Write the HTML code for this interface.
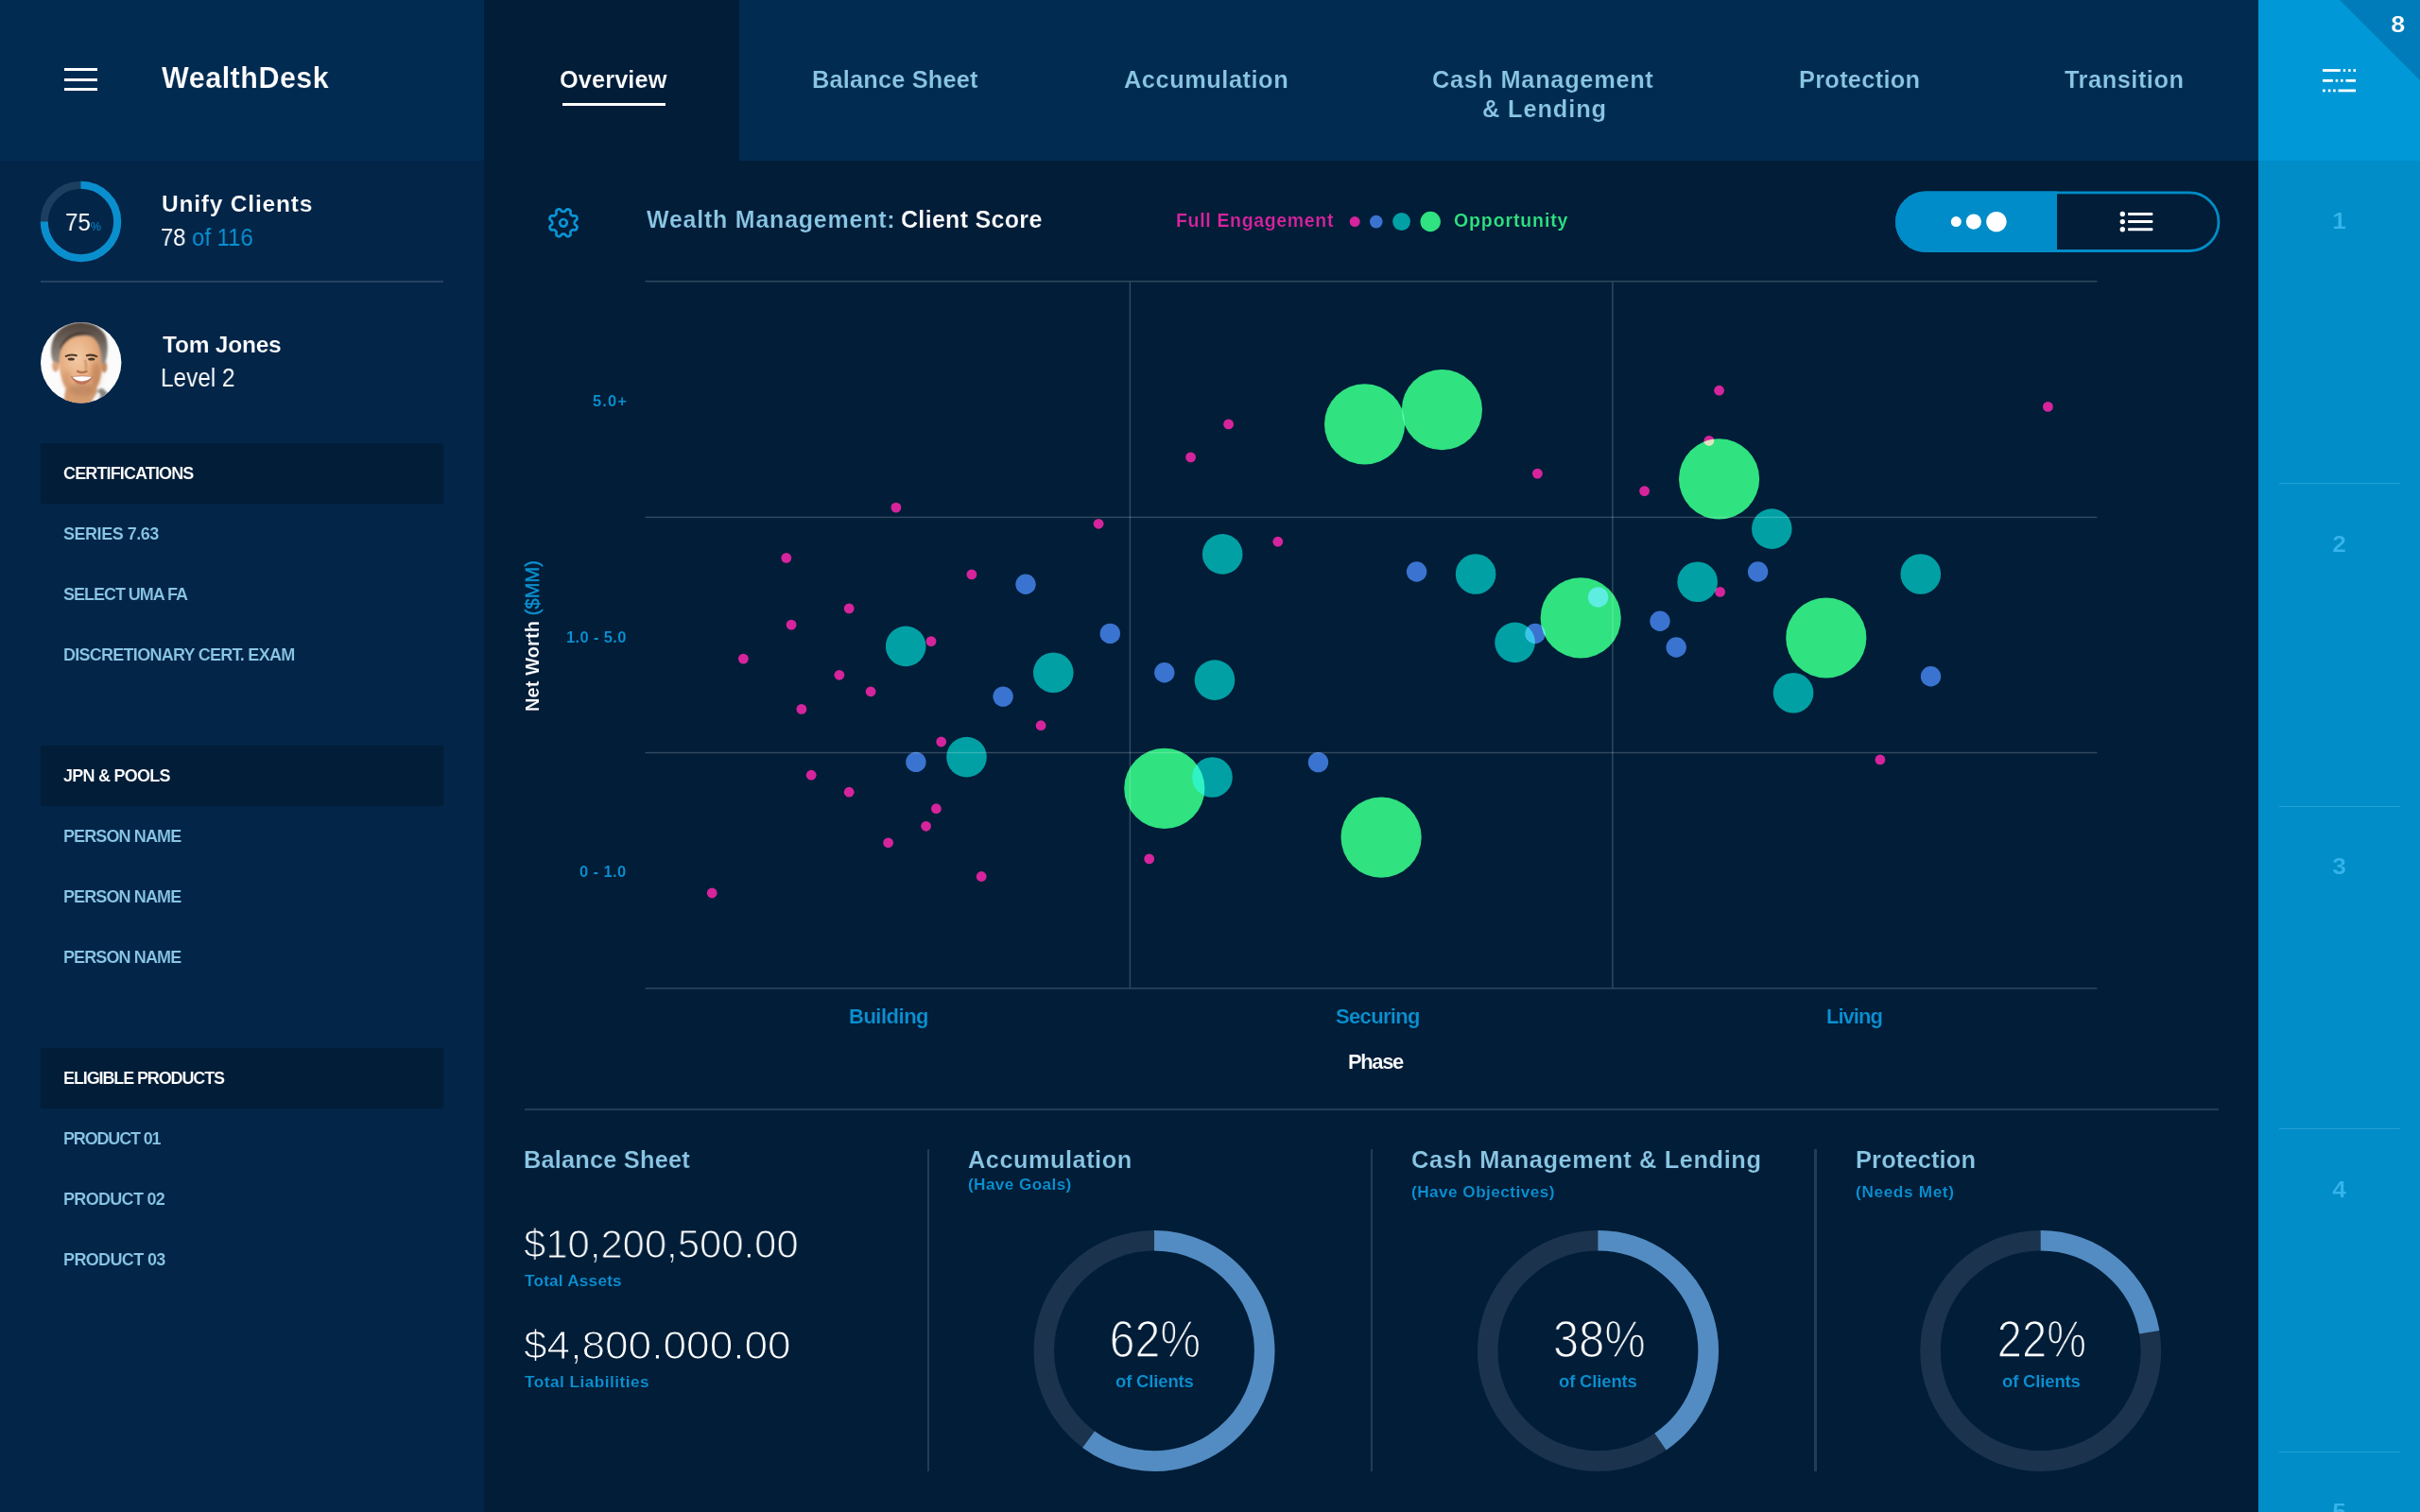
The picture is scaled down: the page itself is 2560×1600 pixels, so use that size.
<!DOCTYPE html>
<html lang="en">
<head>
<meta charset="utf-8">
<title>WealthDesk - Overview</title>
<style>
*{margin:0;padding:0;box-sizing:border-box}
html,body{width:2560px;height:1600px;overflow:hidden;background:#011d38}
body{font-family:"Liberation Sans",sans-serif;font-weight:700;position:relative;-webkit-font-smoothing:antialiased}
.t{position:absolute;white-space:nowrap;will-change:transform}
.abs{position:absolute}
#sidebar{position:absolute;left:0;top:0;width:512px;height:1600px;background:#022548}
#sidehead{position:absolute;left:0;top:0;width:512px;height:170px;background:#022b52}
#nav .bg{position:absolute;left:512px;top:0;width:1877px;height:170px;background:#022b52}
#nav .active{position:absolute;left:512px;top:0;width:270px;height:170px;background:#011d38}
#main .bg{position:absolute;left:512px;top:170px;width:1877px;height:1430px;background:#011d38}
#strip .bg{position:absolute;left:2389px;top:0;width:171px;height:1600px;background:#008dc8}
#strip .head{position:absolute;left:2389px;top:0;width:171px;height:170px;background:#0098d6}
.sec{position:absolute;left:42.5px;width:426.5px;height:64px;background:#011d38;border-radius:3px}
.hr{position:absolute;height:2.1px;background:rgba(255,255,255,.14)}
.vr{position:absolute;width:2.2px;background:rgba(255,255,255,.14)}
svg{position:absolute;overflow:visible}
.lt{font-weight:400}
</style>
</head>
<body>

<aside id="sidebar">
<header id="sidehead">
<div class="abs" style="left:68px;top:72px;width:35px;height:3px;background:#fff"></div>
<div class="abs" style="left:68px;top:82.5px;width:35px;height:3px;background:#fff"></div>
<div class="abs" style="left:68px;top:93px;width:35px;height:3px;background:#fff"></div>
<div class="t" style="left:171.40px;top:67.28px;font-size:30.5px;line-height:30.5px;color:#ffffff;letter-spacing:0.494px;-webkit-text-stroke:0.24px #022b52;">WealthDesk</div>
</header>
<svg style="left:42px;top:191px" width="88" height="88" viewBox="0 0 88 88">
<circle cx="43.5" cy="43.5" r="38.7" fill="none" stroke="#1d3f5f" stroke-width="8"/>
<path d="M43.5 4.8 A38.7 38.7 0 1 1 4.8 43.5" fill="none" stroke="#0a8fce" stroke-width="8"/>
</svg>
<div class="t lt" style="left:68.60px;top:223.33px;font-size:25px;line-height:25px;color:#ffffff;transform:scaleX(0.9638);transform-origin:left center;-webkit-text-stroke:0.00px #022548;">75<span style="font-size:13px;color:#0a91d2;-webkit-text-stroke:0">%</span></div>
<div class="t" style="left:171.40px;top:204.06px;font-size:24.5px;line-height:24.5px;color:#ffffff;letter-spacing:0.802px;-webkit-text-stroke:0.20px #022548;">Unify Clients</div>
<div class="t lt" style="left:170.20px;top:238.99px;font-size:25.4px;line-height:25.4px;color:#ffffff;transform:scaleX(0.9382);transform-origin:left center;-webkit-text-stroke:0.00px #022548;">78 <span style="color:#0a91d2">of 116</span></div>
<div class="hr" style="left:42.8px;top:297px;width:426.5px"></div>
<svg style="left:42.8px;top:341.2px" width="85.4" height="85.4" viewBox="0 0 85.4 85.4">
<defs>
<clipPath id="avc"><circle cx="42.7" cy="42.7" r="42.7"/></clipPath>
<filter id="b1" x="-20%" y="-20%" width="140%" height="140%"><feGaussianBlur stdDeviation="0.9"/></filter>
<filter id="b2" x="-30%" y="-30%" width="160%" height="160%"><feGaussianBlur stdDeviation="0.7"/></filter>
<filter id="b3" x="-40%" y="-40%" width="180%" height="180%"><feGaussianBlur stdDeviation="2.4"/></filter>
<radialGradient id="skin" cx=".42" cy=".36" r=".8"><stop offset="0" stop-color="#f3caa6"/><stop offset=".5" stop-color="#e6ad80"/><stop offset="1" stop-color="#c88a5e"/></radialGradient>
<linearGradient id="hair" x1="0" y1="0" x2="0" y2="1"><stop offset="0" stop-color="#4f423a"/><stop offset=".4" stop-color="#6a5f57"/><stop offset="1" stop-color="#959089"/></linearGradient>
</defs>
<circle cx="42.7" cy="42.7" r="42.7" fill="#fbfbfb"/>
<g clip-path="url(#avc)">
<g filter="url(#b1)">
<path d="M27 68 L23.5 88 L60 88 L59.5 66 Z" fill="#d59c6e"/>
<path d="M60 72 L65 69.5 L71 75 L63 88 L54 88 Z" fill="#8a8781"/>
<path d="M53 86 L60.5 73 L63.5 77.5 L58 88 L51 88Z" fill="#f6f6f6"/>
<ellipse cx="15.8" cy="45.8" rx="3.6" ry="6.6" fill="#dba27a"/>
<ellipse cx="67.3" cy="47.4" rx="3" ry="6.2" fill="#c78a60"/>
<path d="M12.5 40.5 C9.5 30 11 16 20 8 C28 1 38 -0.5 46 0.2 C56 1 64 6 68 13 C71.5 20 71 30 70 36 C69.5 40 68.5 43 67 44 L63.5 44 L20 44 L16 42 Z" fill="url(#hair)"/>
<path d="M19.5 44 C19.8 37 20.6 31 22.5 27 C25 21 30 16.5 38 15 C43 14 50 13.8 54 15.5 C59 18.5 62 24 63.2 31 C64 36 64.6 41 64.8 45.6 C65 52 63 62 58.5 70.8 C56 75 52 78.7 49.3 78.9 L39.4 78.9 C35 78 30 74.5 27.4 70.8 C23 64 20 54 19.5 44Z" fill="url(#skin)"/>
<path d="M20.5 27 C25 13 40 7 57 12.5 C47 11.5 36 13.5 29.5 19 C25.5 22.5 23 25 21.5 29Z" fill="#3f342c" opacity=".8"/>
</g>
<g filter="url(#b3)" opacity=".5">
<ellipse cx="58.5" cy="55" rx="5" ry="13" fill="#b4744a"/>
<ellipse cx="43" cy="71" rx="14" ry="6" fill="#a87757"/>
<ellipse cx="28" cy="60" rx="4" ry="9" fill="#c98f66"/>
</g>
<g filter="url(#b2)">
<path d="M26 36.4 Q31.5 33 38.6 35.6" stroke="#4f3829" stroke-width="2.1" fill="none"/>
<path d="M48 35.6 Q54 33.2 60 36.6" stroke="#4f3829" stroke-width="2.1" fill="none"/>
<ellipse cx="32.3" cy="39" rx="3.6" ry="1.5" fill="#4a372b"/>
<ellipse cx="53.8" cy="39" rx="3.6" ry="1.5" fill="#4a372b"/>
<path d="M38.2 51.4 Q43.5 55 49.4 51.4" stroke="#b06e46" stroke-width="2.6" fill="none" opacity=".85"/>
<path d="M47 40 Q48.6 46 47.8 50" stroke="#cf9468" stroke-width="3" fill="none" opacity=".7"/>
<path d="M31.8 57.2 Q43.5 55.6 55.6 57.2 Q50.8 66 43.5 66 Q36.2 66 31.8 57.2Z" fill="#bf765b"/>
<path d="M33.4 57.8 Q43.5 56.6 54.4 57.8 Q49.6 62.4 43.5 62.4 Q37.6 62.4 33.4 57.8Z" fill="#ffffff"/>
</g>
</g>
</svg>
<div class="t" style="left:171.70px;top:353.36px;font-size:24.5px;line-height:24.5px;color:#ffffff;letter-spacing:-0.227px;-webkit-text-stroke:0.20px #022548;">Tom Jones</div>
<div class="t lt" style="left:169.80px;top:386.39px;font-size:28px;line-height:28px;color:#ffffff;transform:scaleX(0.8685);transform-origin:left center;-webkit-text-stroke:0.00px #022548;">Level 2</div>
<section>
<div class="sec" style="top:468.8px"></div>
<div class="t" style="left:66.80px;top:491.76px;font-size:18px;line-height:18px;color:#ffffff;letter-spacing:-0.868px;-webkit-text-stroke:0.14px #011d38;">CERTIFICATIONS</div>
<div class="t" style="left:66.80px;top:555.76px;font-size:18px;line-height:18px;color:#8ac6e4;letter-spacing:-0.468px;-webkit-text-stroke:0.14px #022548;">SERIES 7.63</div>
<div class="t" style="left:66.80px;top:619.76px;font-size:18px;line-height:18px;color:#8ac6e4;letter-spacing:-1.021px;-webkit-text-stroke:0.14px #022548;">SELECT UMA FA</div>
<div class="t" style="left:66.80px;top:683.76px;font-size:18px;line-height:18px;color:#8ac6e4;letter-spacing:-0.733px;-webkit-text-stroke:0.14px #022548;">DISCRETIONARY CERT. EXAM</div>
</section>
<section>
<div class="sec" style="top:788.8px"></div>
<div class="t" style="left:66.80px;top:811.76px;font-size:18px;line-height:18px;color:#ffffff;letter-spacing:-0.745px;-webkit-text-stroke:0.14px #011d38;">JPN &amp; POOLS</div>
<div class="t" style="left:66.80px;top:875.76px;font-size:18px;line-height:18px;color:#8ac6e4;letter-spacing:-0.884px;-webkit-text-stroke:0.14px #022548;">PERSON NAME</div>
<div class="t" style="left:66.80px;top:939.76px;font-size:18px;line-height:18px;color:#8ac6e4;letter-spacing:-0.884px;-webkit-text-stroke:0.14px #022548;">PERSON NAME</div>
<div class="t" style="left:66.80px;top:1003.76px;font-size:18px;line-height:18px;color:#8ac6e4;letter-spacing:-0.884px;-webkit-text-stroke:0.14px #022548;">PERSON NAME</div>
</section>
<section>
<div class="sec" style="top:1108.8px"></div>
<div class="t" style="left:66.80px;top:1131.76px;font-size:18px;line-height:18px;color:#ffffff;letter-spacing:-1.121px;-webkit-text-stroke:0.14px #011d38;">ELIGIBLE PRODUCTS</div>
<div class="t" style="left:66.80px;top:1195.76px;font-size:18px;line-height:18px;color:#8ac6e4;letter-spacing:-1.160px;-webkit-text-stroke:0.14px #022548;">PRODUCT 01</div>
<div class="t" style="left:66.80px;top:1259.76px;font-size:18px;line-height:18px;color:#8ac6e4;letter-spacing:-0.682px;-webkit-text-stroke:0.14px #022548;">PRODUCT 02</div>
<div class="t" style="left:66.80px;top:1323.76px;font-size:18px;line-height:18px;color:#8ac6e4;letter-spacing:-0.627px;-webkit-text-stroke:0.14px #022548;">PRODUCT 03</div>
</section>
</aside>
<nav id="nav"><div class="bg"></div><div class="active"></div>
<div class="t" style="left:591.80px;top:71.79px;font-size:25.4px;line-height:25.4px;color:#ffffff;letter-spacing:0.066px;-webkit-text-stroke:0.20px #011d38;">Overview</div>
<div class="abs" style="left:594.8px;top:108.8px;width:109px;height:3px;background:#fff"></div>
<div class="t" style="left:858.90px;top:71.79px;font-size:25.4px;line-height:25.4px;color:#8ac6e4;letter-spacing:0.163px;-webkit-text-stroke:0.20px #022b52;">Balance Sheet</div>
<div class="t" style="left:1189.00px;top:71.79px;font-size:25.4px;line-height:25.4px;color:#8ac6e4;letter-spacing:0.524px;-webkit-text-stroke:0.20px #022b52;">Accumulation</div>
<div class="t" style="left:1515.30px;top:71.79px;font-size:25.4px;line-height:25.4px;color:#8ac6e4;letter-spacing:0.678px;-webkit-text-stroke:0.20px #022b52;">Cash Management</div>
<div class="t" style="left:1567.70px;top:103.49px;font-size:25.4px;line-height:25.4px;color:#8ac6e4;letter-spacing:0.867px;-webkit-text-stroke:0.20px #022b52;">&amp; Lending</div>
<div class="t" style="left:1903.00px;top:71.79px;font-size:25.4px;line-height:25.4px;color:#8ac6e4;letter-spacing:0.271px;-webkit-text-stroke:0.20px #022b52;">Protection</div>
<div class="t" style="left:2184.20px;top:71.79px;font-size:25.4px;line-height:25.4px;color:#8ac6e4;letter-spacing:0.514px;-webkit-text-stroke:0.20px #022b52;">Transition</div>
</nav>
<main id="main"><div class="bg"></div>
<svg style="left:0;top:0" width="2560" height="300" viewBox="0 0 2560 300">
<path d="M596.00 224.00 L596.31 224.00 L596.62 223.98 L596.93 223.94 L597.26 223.86 L597.60 223.68 L597.97 223.34 L598.41 222.81 L598.89 222.21 L599.38 221.72 L599.85 221.43 L600.29 221.33 L600.70 221.34 L601.10 221.41 L601.48 221.52 L601.86 221.66 L602.22 221.83 L602.57 222.02 L602.90 222.25 L603.20 222.54 L603.44 222.92 L603.57 223.45 L603.57 224.15 L603.48 224.92 L603.42 225.59 L603.44 226.10 L603.56 226.47 L603.72 226.76 L603.92 227.01 L604.13 227.23 L604.34 227.46 L604.57 227.67 L604.79 227.88 L605.04 228.08 L605.33 228.24 L605.70 228.36 L606.21 228.38 L606.88 228.32 L607.65 228.23 L608.35 228.23 L608.88 228.36 L609.26 228.60 L609.55 228.90 L609.78 229.23 L609.97 229.58 L610.14 229.94 L610.28 230.32 L610.39 230.70 L610.46 231.10 L610.47 231.51 L610.37 231.95 L610.08 232.42 L609.59 232.91 L608.99 233.39 L608.46 233.83 L608.12 234.20 L607.94 234.54 L607.86 234.87 L607.82 235.18 L607.80 235.49 L607.80 235.80 L607.80 236.11 L607.82 236.42 L607.86 236.73 L607.94 237.06 L608.12 237.40 L608.46 237.77 L608.99 238.21 L609.59 238.69 L610.08 239.18 L610.37 239.65 L610.47 240.09 L610.46 240.50 L610.39 240.90 L610.28 241.28 L610.14 241.66 L609.97 242.02 L609.78 242.37 L609.55 242.70 L609.26 243.00 L608.88 243.24 L608.35 243.37 L607.65 243.37 L606.88 243.28 L606.21 243.22 L605.70 243.24 L605.33 243.36 L605.04 243.52 L604.79 243.72 L604.57 243.93 L604.34 244.14 L604.13 244.37 L603.92 244.59 L603.72 244.84 L603.56 245.13 L603.44 245.50 L603.42 246.01 L603.48 246.68 L603.57 247.45 L603.57 248.15 L603.44 248.68 L603.20 249.06 L602.90 249.35 L602.57 249.58 L602.22 249.77 L601.86 249.94 L601.48 250.08 L601.10 250.19 L600.70 250.26 L600.29 250.27 L599.85 250.17 L599.38 249.88 L598.89 249.39 L598.41 248.79 L597.97 248.26 L597.60 247.92 L597.26 247.74 L596.93 247.66 L596.62 247.62 L596.31 247.60 L596.00 247.60 L595.69 247.60 L595.38 247.62 L595.07 247.66 L594.74 247.74 L594.40 247.92 L594.03 248.26 L593.59 248.79 L593.11 249.39 L592.62 249.88 L592.15 250.17 L591.71 250.27 L591.30 250.26 L590.90 250.19 L590.52 250.08 L590.14 249.94 L589.78 249.77 L589.43 249.58 L589.10 249.35 L588.80 249.06 L588.56 248.68 L588.43 248.15 L588.43 247.45 L588.52 246.68 L588.58 246.01 L588.56 245.50 L588.44 245.13 L588.28 244.84 L588.08 244.59 L587.87 244.37 L587.66 244.14 L587.43 243.93 L587.21 243.72 L586.96 243.52 L586.67 243.36 L586.30 243.24 L585.79 243.22 L585.12 243.28 L584.35 243.37 L583.65 243.37 L583.12 243.24 L582.74 243.00 L582.45 242.70 L582.22 242.37 L582.03 242.02 L581.86 241.66 L581.72 241.28 L581.61 240.90 L581.54 240.50 L581.53 240.09 L581.63 239.65 L581.92 239.18 L582.41 238.69 L583.01 238.21 L583.54 237.77 L583.88 237.40 L584.06 237.06 L584.14 236.73 L584.18 236.42 L584.20 236.11 L584.20 235.80 L584.20 235.49 L584.18 235.18 L584.14 234.87 L584.06 234.54 L583.88 234.20 L583.54 233.83 L583.01 233.39 L582.41 232.91 L581.92 232.42 L581.63 231.95 L581.53 231.51 L581.54 231.10 L581.61 230.70 L581.72 230.32 L581.86 229.94 L582.03 229.58 L582.22 229.23 L582.45 228.90 L582.74 228.60 L583.12 228.36 L583.65 228.23 L584.35 228.23 L585.12 228.32 L585.79 228.38 L586.30 228.36 L586.67 228.24 L586.96 228.08 L587.21 227.88 L587.43 227.67 L587.66 227.46 L587.87 227.23 L588.08 227.01 L588.28 226.76 L588.44 226.47 L588.56 226.10 L588.58 225.59 L588.52 224.92 L588.43 224.15 L588.43 223.45 L588.56 222.92 L588.80 222.54 L589.10 222.25 L589.43 222.02 L589.78 221.83 L590.14 221.66 L590.52 221.52 L590.90 221.41 L591.30 221.34 L591.71 221.33 L592.15 221.43 L592.62 221.72 L593.11 222.21 L593.59 222.81 L594.03 223.34 L594.40 223.68 L594.74 223.86 L595.07 223.94 L595.38 223.98 L595.69 224.00 Z" fill="none" stroke="#0a94d6" stroke-width="2.7" stroke-linejoin="round"/>
<circle cx="596" cy="235.8" r="3.8" fill="none" stroke="#0a94d6" stroke-width="2.7"/>
<circle cx="1433.2" cy="234.6" r="5.5" fill="#d6249c"/>
<circle cx="1455.8" cy="234.6" r="6.8" fill="#3a74d0"/>
<circle cx="1482.6" cy="234.5" r="9.4" fill="#00a0a4"/>
<circle cx="1513.2" cy="234.5" r="10.7" fill="#30e280"/>
</svg>
<div class="t" style="left:683.50px;top:220.03px;font-size:25px;line-height:25px;color:#8ac6e4;letter-spacing:0.771px;-webkit-text-stroke:0.20px #011d38;">Wealth Management:</div>
<div class="t" style="left:952.90px;top:220.03px;font-size:25px;line-height:25px;color:#ffffff;letter-spacing:0.313px;-webkit-text-stroke:0.20px #011d38;">Client Score</div>
<div class="t" style="left:1244.40px;top:224.49px;font-size:19.5px;line-height:19.5px;color:#d6249c;letter-spacing:0.667px;-webkit-text-stroke:0.16px #011d38;">Full Engagement</div>
<div class="t" style="left:1538.10px;top:224.49px;font-size:19.5px;line-height:19.5px;color:#30e280;letter-spacing:0.888px;-webkit-text-stroke:0.16px #011d38;">Opportunity</div>
<svg style="left:2000px;top:200px" width="360" height="70" viewBox="2000 200 360 70">
<path d="M2176 202.5 H2037.2 A32.2 32.2 0 0 0 2037.2 266.9 H2176 Z" fill="#008cc8"/>
<rect x="2006.4" y="203.9" width="340.6" height="61.6" rx="30.8" fill="none" stroke="#008cc8" stroke-width="2.8"/>
<circle cx="2069.3" cy="234.6" r="5.5" fill="#fff"/><circle cx="2087.9" cy="234.6" r="8.1" fill="#fff"/><circle cx="2111.9" cy="234.6" r="10.7" fill="#fff"/>
<g fill="#fff"><circle cx="2245.3" cy="226.5" r="2.7"/><circle cx="2245.3" cy="234.6" r="2.7"/><circle cx="2245.3" cy="242.7" r="2.7"/>
<rect x="2251" y="225" width="26.4" height="3" rx="1"/><rect x="2251" y="233.1" width="26.4" height="3" rx="1"/><rect x="2251" y="241.2" width="26.4" height="3" rx="1"/></g>
</svg>
<svg style="left:540px;top:280px;isolation:isolate" width="1700" height="790" viewBox="540 280 1700 790">
<rect x="540" y="280" width="1700" height="790" fill="#011d38"/>
<g fill="#fff" fill-opacity=".2">
<rect x="682.5" y="297.00" width="1536" height="1.4"/>
<rect x="682.5" y="546.70" width="1536" height="1.4"/>
<rect x="682.5" y="795.80" width="1536" height="1.4"/>
<rect x="682.5" y="1045.20" width="1536" height="1.4"/>
<rect x="1194.70" y="298.4" width="1.4" height="746.8"/>
<rect x="1705.20" y="298.4" width="1.4" height="746.8"/>
</g>
<g style="mix-blend-mode:normal">
<circle cx="1443.6" cy="448.9" r="42.6" fill="#2fde5c" style="mix-blend-mode:screen"/>
<circle cx="1525.4" cy="433.6" r="42.6" fill="#2fde5c" style="mix-blend-mode:screen"/>
<circle cx="1818.6" cy="506.8" r="42.6" fill="#2fde5c" style="mix-blend-mode:screen"/>
<circle cx="1672.2" cy="653.9" r="42.6" fill="#2fde5c" style="mix-blend-mode:screen"/>
<circle cx="1931.8" cy="675" r="42.6" fill="#2fde5c" style="mix-blend-mode:screen"/>
<circle cx="1231.8" cy="834.4" r="42.6" fill="#2fde5c" style="mix-blend-mode:screen"/>
<circle cx="1461.1" cy="886.1" r="42.6" fill="#2fde5c" style="mix-blend-mode:screen"/>
<circle cx="1293.2" cy="586.4" r="21.3" fill="#00948a" style="mix-blend-mode:screen"/>
<circle cx="958.2" cy="683.9" r="21.3" fill="#00948a" style="mix-blend-mode:screen"/>
<circle cx="1114.3" cy="711.8" r="21.3" fill="#00948a" style="mix-blend-mode:screen"/>
<circle cx="1285" cy="719.6" r="21.3" fill="#00948a" style="mix-blend-mode:screen"/>
<circle cx="1022.5" cy="801.1" r="21.3" fill="#00948a" style="mix-blend-mode:screen"/>
<circle cx="1282.5" cy="822.5" r="21.3" fill="#00948a" style="mix-blend-mode:screen"/>
<circle cx="1874.3" cy="559.6" r="21.3" fill="#00948a" style="mix-blend-mode:screen"/>
<circle cx="1561.1" cy="607.5" r="21.3" fill="#00948a" style="mix-blend-mode:screen"/>
<circle cx="1795.7" cy="615.7" r="21.3" fill="#00948a" style="mix-blend-mode:screen"/>
<circle cx="2031.8" cy="607.5" r="21.3" fill="#00948a" style="mix-blend-mode:screen"/>
<circle cx="1602.6" cy="679.9" r="21.3" fill="#00948a" style="mix-blend-mode:screen"/>
<circle cx="1897.1" cy="733.2" r="21.3" fill="#00948a" style="mix-blend-mode:screen"/>
<circle cx="1085" cy="618.2" r="10.7" fill="#3962c3" style="mix-blend-mode:screen"/>
<circle cx="1174.3" cy="670.4" r="10.7" fill="#3962c3" style="mix-blend-mode:screen"/>
<circle cx="1231.8" cy="711.8" r="10.7" fill="#3962c3" style="mix-blend-mode:screen"/>
<circle cx="1061.1" cy="737.1" r="10.7" fill="#3962c3" style="mix-blend-mode:screen"/>
<circle cx="968.9" cy="806.4" r="10.7" fill="#3962c3" style="mix-blend-mode:screen"/>
<circle cx="1394.5" cy="806.6" r="10.7" fill="#3962c3" style="mix-blend-mode:screen"/>
<circle cx="1498.6" cy="605" r="10.7" fill="#3962c3" style="mix-blend-mode:screen"/>
<circle cx="1859.6" cy="605" r="10.7" fill="#3962c3" style="mix-blend-mode:screen"/>
<circle cx="1690.6" cy="631.9" r="10.7" fill="#3962c3" style="mix-blend-mode:screen"/>
<circle cx="1624" cy="670.5" r="10.7" fill="#3962c3" style="mix-blend-mode:screen"/>
<circle cx="1756" cy="657.3" r="10.7" fill="#3962c3" style="mix-blend-mode:screen"/>
<circle cx="1773.2" cy="685" r="10.7" fill="#3962c3" style="mix-blend-mode:screen"/>
<circle cx="2042.5" cy="715.7" r="10.7" fill="#3962c3" style="mix-blend-mode:screen"/>
<circle cx="1299.6" cy="448.9" r="5.4" fill="#d60880" style="mix-blend-mode:screen"/>
<circle cx="1259.6" cy="483.9" r="5.4" fill="#d60880" style="mix-blend-mode:screen"/>
<circle cx="947.9" cy="537.1" r="5.4" fill="#d60880" style="mix-blend-mode:screen"/>
<circle cx="1162.1" cy="554.3" r="5.4" fill="#d60880" style="mix-blend-mode:screen"/>
<circle cx="1351.8" cy="573.2" r="5.4" fill="#d60880" style="mix-blend-mode:screen"/>
<circle cx="831.8" cy="590.4" r="5.4" fill="#d60880" style="mix-blend-mode:screen"/>
<circle cx="1027.9" cy="607.9" r="5.4" fill="#d60880" style="mix-blend-mode:screen"/>
<circle cx="898.2" cy="643.9" r="5.4" fill="#d60880" style="mix-blend-mode:screen"/>
<circle cx="837.1" cy="661.1" r="5.4" fill="#d60880" style="mix-blend-mode:screen"/>
<circle cx="985" cy="678.6" r="5.4" fill="#d60880" style="mix-blend-mode:screen"/>
<circle cx="786.4" cy="697.1" r="5.4" fill="#d60880" style="mix-blend-mode:screen"/>
<circle cx="887.9" cy="714.3" r="5.4" fill="#d60880" style="mix-blend-mode:screen"/>
<circle cx="921.1" cy="731.8" r="5.4" fill="#d60880" style="mix-blend-mode:screen"/>
<circle cx="847.9" cy="750.4" r="5.4" fill="#d60880" style="mix-blend-mode:screen"/>
<circle cx="1101.1" cy="767.7" r="5.4" fill="#d60880" style="mix-blend-mode:screen"/>
<circle cx="995.7" cy="785" r="5.4" fill="#d60880" style="mix-blend-mode:screen"/>
<circle cx="858.2" cy="820.2" r="5.4" fill="#d60880" style="mix-blend-mode:screen"/>
<circle cx="898.2" cy="838.2" r="5.4" fill="#d60880" style="mix-blend-mode:screen"/>
<circle cx="990.4" cy="855.7" r="5.4" fill="#d60880" style="mix-blend-mode:screen"/>
<circle cx="979.6" cy="874.3" r="5.4" fill="#d60880" style="mix-blend-mode:screen"/>
<circle cx="939.6" cy="891.8" r="5.4" fill="#d60880" style="mix-blend-mode:screen"/>
<circle cx="1215.7" cy="908.9" r="5.4" fill="#d60880" style="mix-blend-mode:screen"/>
<circle cx="1038.2" cy="927.5" r="5.4" fill="#d60880" style="mix-blend-mode:screen"/>
<circle cx="753.2" cy="945" r="5.4" fill="#d60880" style="mix-blend-mode:screen"/>
<circle cx="1818.6" cy="413.2" r="5.4" fill="#d60880" style="mix-blend-mode:screen"/>
<circle cx="2166.4" cy="430.4" r="5.4" fill="#d60880" style="mix-blend-mode:screen"/>
<circle cx="1807.9" cy="466.4" r="5.4" fill="#d60880" style="mix-blend-mode:screen"/>
<circle cx="1626.4" cy="501.1" r="5.4" fill="#d60880" style="mix-blend-mode:screen"/>
<circle cx="1739.6" cy="519.6" r="5.4" fill="#d60880" style="mix-blend-mode:screen"/>
<circle cx="1819.6" cy="626.4" r="5.4" fill="#d60880" style="mix-blend-mode:screen"/>
<circle cx="1988.9" cy="803.9" r="5.4" fill="#d60880" style="mix-blend-mode:screen"/>
</g></svg>
<div class="t" style="left:626.51px;top:415.53px;font-size:16.5px;line-height:16.5px;color:#0a91d2;letter-spacing:1.139px;-webkit-text-stroke:0.13px #011d38;">5.0+</div>
<div class="t" style="left:599.01px;top:666.03px;font-size:16.5px;line-height:16.5px;color:#0a91d2;letter-spacing:0.369px;-webkit-text-stroke:0.13px #011d38;">1.0 - 5.0</div>
<div class="t" style="left:613.31px;top:913.93px;font-size:16.5px;line-height:16.5px;color:#0a91d2;letter-spacing:0.402px;-webkit-text-stroke:0.13px #011d38;">0 - 1.0</div>
<div class="t" style="left:463.2px;top:661.0px;width:200px;height:24px;line-height:24px;font-size:20px;text-align:center;color:#fff;transform:rotate(-90deg);transform-origin:center center;letter-spacing:0.107px;-webkit-text-stroke:0.2px #011d38">Net Worth <span style="color:#0a91d2;font-weight:400;-webkit-text-stroke:0.45px #0a91d2">($MM)</span></div>
<div class="t" style="left:897.54px;top:1064.57px;font-size:22px;line-height:22px;color:#0a91d2;letter-spacing:-0.494px;-webkit-text-stroke:0.18px #011d38;">Building</div>
<div class="t" style="left:1412.54px;top:1064.57px;font-size:22px;line-height:22px;color:#0a91d2;letter-spacing:-0.659px;-webkit-text-stroke:0.18px #011d38;">Securing</div>
<div class="t" style="left:1932.19px;top:1064.57px;font-size:22px;line-height:22px;color:#0a91d2;letter-spacing:-0.991px;-webkit-text-stroke:0.18px #011d38;">Living</div>
<div class="t" style="left:1425.79px;top:1112.77px;font-size:22px;line-height:22px;color:#ffffff;letter-spacing:-1.400px;-webkit-text-stroke:0.18px #011d38;">Phase</div>
<div class="hr" style="left:554.6px;top:1172.9px;width:1792.3px"></div>
<div class="vr" style="left:980.8px;top:1216px;height:340.5px"></div>
<div class="vr" style="left:1450.0px;top:1216px;height:340.5px"></div>
<div class="vr" style="left:1919.4px;top:1216px;height:340.5px"></div>
<div class="t" style="left:554.10px;top:1214.89px;font-size:25.4px;line-height:25.4px;color:#8ac6e4;letter-spacing:0.179px;-webkit-text-stroke:0.20px #011d38;">Balance Sheet</div>
<div class="t" style="left:1023.60px;top:1214.89px;font-size:25.4px;line-height:25.4px;color:#8ac6e4;letter-spacing:0.478px;-webkit-text-stroke:0.20px #011d38;">Accumulation</div>
<div class="t" style="left:1492.70px;top:1214.89px;font-size:25.4px;line-height:25.4px;color:#8ac6e4;letter-spacing:0.603px;-webkit-text-stroke:0.20px #011d38;">Cash Management &amp; Lending</div>
<div class="t" style="left:1963.30px;top:1214.89px;font-size:25.4px;line-height:25.4px;color:#8ac6e4;letter-spacing:0.160px;-webkit-text-stroke:0.20px #011d38;">Protection</div>
<div class="t" style="left:1023.70px;top:1245.14px;font-size:17.2px;line-height:17.2px;color:#0a91d2;letter-spacing:0.388px;-webkit-text-stroke:0.14px #011d38;">(Have Goals)</div>
<div class="t" style="left:1493.00px;top:1253.04px;font-size:17.2px;line-height:17.2px;color:#0a91d2;letter-spacing:0.454px;-webkit-text-stroke:0.14px #011d38;">(Have Objectives)</div>
<div class="t" style="left:1962.70px;top:1253.04px;font-size:17.2px;line-height:17.2px;color:#0a91d2;letter-spacing:0.654px;-webkit-text-stroke:0.14px #011d38;">(Needs Met)</div>
<div class="t lt" style="left:554.30px;top:1295.45px;font-size:43.4px;line-height:43.4px;color:#ffffff;transform:scaleX(0.9637);transform-origin:left center;-webkit-text-stroke:1.17px #011d38;">$10,200,500.00</div>
<div class="t" style="left:554.50px;top:1346.64px;font-size:17.2px;line-height:17.2px;color:#0a91d2;letter-spacing:0.216px;-webkit-text-stroke:0.14px #011d38;">Total Assets</div>
<div class="t lt" style="left:554.30px;top:1401.95px;font-size:43.4px;line-height:43.4px;color:#ffffff;transform:scaleX(1.0187);transform-origin:left center;-webkit-text-stroke:1.17px #011d38;">$4,800.000.00</div>
<div class="t" style="left:554.50px;top:1453.94px;font-size:17.2px;line-height:17.2px;color:#0a91d2;letter-spacing:0.483px;-webkit-text-stroke:0.14px #011d38;">Total Liabilities</div>
<svg style="left:0;top:1280px" width="2389" height="300" viewBox="0 1280 2389 300">
<circle cx="1221" cy="1429.4" r="116.7" fill="none" stroke="#1b334d" stroke-width="21.6"/>
<path d="M1221 1312.7 A116.7 116.7 0 1 1 1151.58 1523.21" fill="none" stroke="#528cc2" stroke-width="21.6"/>
<circle cx="1690.4" cy="1429.4" r="116.7" fill="none" stroke="#1b334d" stroke-width="21.6"/>
<path d="M1690.4 1312.7 A116.7 116.7 0 0 1 1756.50 1525.58" fill="none" stroke="#528cc2" stroke-width="21.6"/>
<circle cx="2158.7" cy="1429.4" r="116.7" fill="none" stroke="#1b334d" stroke-width="21.6"/>
<path d="M2158.7 1312.7 A116.7 116.7 0 0 1 2273.73 1409.74" fill="none" stroke="#528cc2" stroke-width="21.6"/>
</svg>
<div class="t lt" style="left:1167.36px;top:1390.20px;font-size:54.8px;line-height:54.8px;color:#ffffff;transform:scaleX(0.8783);transform-origin:center center;-webkit-text-stroke:1.48px #011d38;">62%</div>
<div class="t" style="left:1180.00px;top:1452.64px;font-size:18.5px;line-height:18.5px;color:#0a91d2;letter-spacing:-0.163px;-webkit-text-stroke:0.15px #011d38;">of Clients</div>
<div class="t lt" style="left:1636.76px;top:1390.20px;font-size:54.8px;line-height:54.8px;color:#ffffff;transform:scaleX(0.8920);transform-origin:center center;-webkit-text-stroke:1.48px #011d38;">38%</div>
<div class="t" style="left:1649.40px;top:1452.64px;font-size:18.5px;line-height:18.5px;color:#0a91d2;letter-spacing:-0.163px;-webkit-text-stroke:0.15px #011d38;">of Clients</div>
<div class="t lt" style="left:2105.06px;top:1390.20px;font-size:54.8px;line-height:54.8px;color:#ffffff;transform:scaleX(0.8601);transform-origin:center center;-webkit-text-stroke:1.48px #011d38;">22%</div>
<div class="t" style="left:2117.69px;top:1452.64px;font-size:18.5px;line-height:18.5px;color:#0a91d2;letter-spacing:-0.163px;-webkit-text-stroke:0.15px #011d38;">of Clients</div>
</main>
<aside id="strip"><div class="bg"></div><div class="head"></div>
<svg style="left:2389px;top:0" width="171" height="170" viewBox="2389 0 171 170">
<path d="M2475 0 L2560 0 L2560 85 Z" fill="#007cba"/>
<g fill="#fff">
<rect x="2457" y="73.1" width="18.8" height="2.8"/>
<rect x="2478.8" y="73.1" width="2.4" height="2.8"/>
<rect x="2484.2" y="73.1" width="2.4" height="2.8"/>
<rect x="2489.5" y="73.1" width="2.5" height="2.8"/>
<rect x="2457" y="83.9" width="10.9" height="2.8"/>
<rect x="2470.7" y="83.9" width="2.5" height="2.8"/>
<rect x="2476" y="83.9" width="2.6" height="2.8"/>
<rect x="2481.4" y="83.9" width="10.6" height="2.8"/>
<rect x="2457" y="94.5" width="2.8" height="2.8"/>
<rect x="2462.8" y="94.5" width="2.6" height="2.8"/>
<rect x="2468.1" y="94.5" width="2.6" height="2.8"/>
<rect x="2473.5" y="94.5" width="18.5" height="2.8"/>
</g></svg>
<div class="abs" style="left:2411px;top:511.0px;width:128px;height:1.3px;background:rgba(120,205,245,.3)"></div>
<div class="abs" style="left:2411px;top:852.5px;width:128px;height:1.3px;background:rgba(120,205,245,.3)"></div>
<div class="abs" style="left:2411px;top:1194.0px;width:128px;height:1.3px;background:rgba(120,205,245,.3)"></div>
<div class="abs" style="left:2411px;top:1535.5px;width:128px;height:1.3px;background:rgba(120,205,245,.3)"></div>
<div class="t" style="left:2529.83px;top:14.38px;font-size:24px;line-height:24px;color:#ffffff;-webkit-text-stroke:0.19px #007cba;transform:scaleX(1.12);">8</div>
<div class="t" style="left:2468.23px;top:221.68px;font-size:24px;line-height:24px;color:#36b4ec;-webkit-text-stroke:0.19px #008dc8;transform:scaleX(1.1);">1</div>
<div class="t" style="left:2468.23px;top:564.18px;font-size:24px;line-height:24px;color:#36b4ec;-webkit-text-stroke:0.19px #008dc8;transform:scaleX(1.1);">2</div>
<div class="t" style="left:2468.23px;top:905.48px;font-size:24px;line-height:24px;color:#36b4ec;-webkit-text-stroke:0.19px #008dc8;transform:scaleX(1.1);">3</div>
<div class="t" style="left:2468.23px;top:1246.68px;font-size:24px;line-height:24px;color:#36b4ec;-webkit-text-stroke:0.19px #008dc8;transform:scaleX(1.1);">4</div>
<div class="t" style="left:2468.23px;top:1588.18px;font-size:24px;line-height:24px;color:#36b4ec;-webkit-text-stroke:0.19px #008dc8;transform:scaleX(1.1);">5</div>
</aside>
</body></html>
